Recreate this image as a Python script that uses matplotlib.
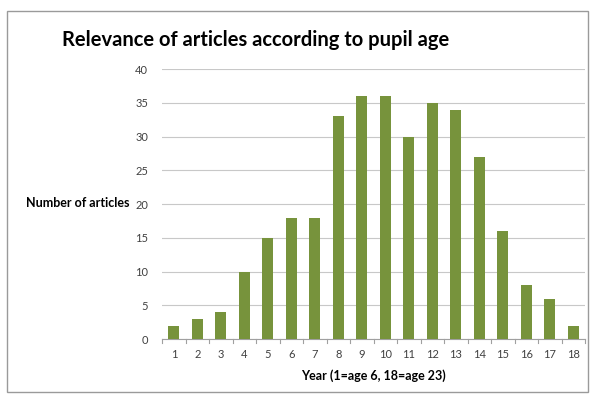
import matplotlib.pyplot as plt
from matplotlib.patches import Rectangle

years = list(range(1, 19))
articles = [2, 3, 4, 10, 15, 18, 18, 33, 36, 36, 30, 35, 34, 27, 16, 8, 6, 2]
yticks = [0, 5, 10, 15, 20, 25, 30, 35, 40]

bar_color = '#77933c'
text_color = '#404040'

plt.rcParams['font.family'] = ['Lato', 'DejaVu Sans']

fig = plt.figure(figsize=(5.94, 3.99), dpi=100)
fig.patch.set_facecolor('white')
# light frame round the chart
fig.patches.append(Rectangle((0.012, 0.018), 0.978, 0.955, transform=fig.transFigure,
                             fill=False, edgecolor='#9a9a9a', linewidth=1.0))

ax = fig.add_axes([0.273, 0.150, 0.712, 0.677])
ax.bar(years, articles, width=0.47, color=bar_color, zorder=3)

ax.set_ylim(0, 40)
ax.set_xlim(0.5, 18.5)
ax.set_yticks(yticks)
ax.set_xticks(years)
ax.tick_params(axis='both', labelsize=8, colors=text_color, length=0, pad=7)
ax.tick_params(axis='y', pad=10)
ax.grid(axis='y', color='#c8c8c8', linewidth=0.8, zorder=0)
for s in ['top', 'right', 'left']:
    ax.spines[s].set_visible(False)
ax.spines['bottom'].set_color('#a0a0a0')

# small tick marks between categories
for b in [x + 0.5 for x in range(0, 19)]:
    ax.plot([b, b], [0, -0.6], color='#a0a0a0', linewidth=0.8, clip_on=False)

fig.text(0.431, 0.90, 'Relevance of articles according to pupil age', ha='center', va='center',
         fontsize=14.5, fontweight='bold', color='black')
fig.text(0.044, 0.49, 'Number of articles', ha='left', va='center', fontsize=9,
         fontweight='bold', color='black')
ax.set_xlabel('Year (1=age 6, 18=age 23)', fontsize=9, fontweight='bold', color='black', labelpad=7)

fig.savefig('out.png', dpi=100)
